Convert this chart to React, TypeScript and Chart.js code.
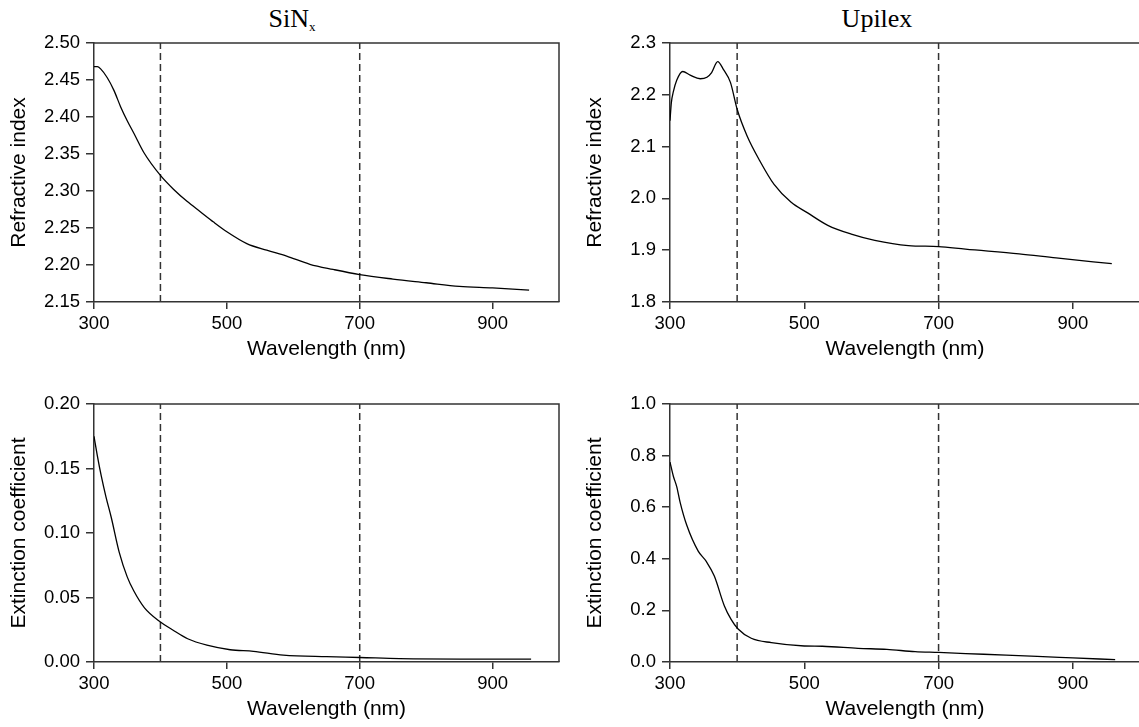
import { useEffect, useRef } from "react";
import { Chart, registerables } from "chart.js";

Chart.register(...registerables);

// ---------- data ----------
const wavelengthTicks = [300, 500, 700, 900];
const markerWavelengths = [400, 700];

const sinxNWavelength = [300, 305, 310, 320, 330, 340, 350, 360, 375, 400, 420, 440, 460, 480, 500, 530, 560, 590, 625, 660, 700, 750, 800, 850, 900, 955];
const sinxN = [2.468, 2.468, 2.465, 2.453, 2.436, 2.414, 2.395, 2.378, 2.352, 2.321, 2.302, 2.286, 2.272, 2.258, 2.245, 2.229, 2.220, 2.212, 2.201, 2.194, 2.187, 2.181, 2.176, 2.171, 2.169, 2.166];

const upilexNWavelength = [300, 302, 305, 310, 319, 330, 345, 355, 362, 371, 380, 390, 400, 415, 434, 455, 480, 505, 535, 570, 605, 655, 700, 740, 820, 875, 958];
const upilexN = [2.150, 2.185, 2.206, 2.228, 2.245, 2.238, 2.231, 2.234, 2.243, 2.264, 2.248, 2.224, 2.172, 2.120, 2.072, 2.027, 1.993, 1.972, 1.948, 1.931, 1.919, 1.909, 1.907, 1.902, 1.893, 1.885, 1.874];

const sinxKWavelength = [300, 305, 311, 318, 326, 338, 350, 360, 376, 400, 418, 441, 470, 505, 540, 585, 650, 700, 760, 870, 958];
const sinxK = [0.175, 0.160, 0.144, 0.128, 0.112, 0.085, 0.066, 0.055, 0.042, 0.031, 0.025, 0.018, 0.013, 0.0095, 0.0083, 0.0054, 0.0041, 0.0035, 0.0026, 0.0023, 0.0023];

const upilexKWavelength = [300, 305, 310, 315, 325, 342, 354, 366, 381, 391, 401, 421, 451, 500, 527, 580, 623, 665, 700, 767, 847, 900, 963];
const upilexK = [0.775, 0.72, 0.68, 0.62, 0.53, 0.43, 0.39, 0.333, 0.217, 0.165, 0.129, 0.092, 0.075, 0.062, 0.061, 0.053, 0.049, 0.040, 0.037, 0.030, 0.022, 0.016, 0.009];

const sinxNTicks = [2.15, 2.2, 2.25, 2.3, 2.35, 2.4, 2.45, 2.5];
const upilexNTicks = [1.8, 1.9, 2.0, 2.1, 2.2, 2.3];
const sinxKTicks = [0, 0.05, 0.1, 0.15, 0.2];
const upilexKTicks = [0, 0.2, 0.4, 0.6, 0.8, 1.0];

// ---------- layout / style ----------
const SANS = "'Liberation Sans', Arial, sans-serif";
const SERIF = "'Liberation Serif', 'Times New Roman', serif";
const AXIS = "#333";
const TICK_SIZE = 18.5;
const AXIS_TITLE_SIZE = 21;

type PanelCfg = {
  left: number;
  top: number;
  width: number;
  height: number;
  padRight: number;
  xs: number[];
  ys: number[];
  yTicks: number[];
  decimals: number;
  yTitle: string;
};

const panels: PanelCfg[] = [
  { left: 0, top: 0, width: 570, height: 362, padRight: 11, xs: sinxNWavelength, ys: sinxN, yTicks: sinxNTicks, decimals: 2, yTitle: "Refractive index" },
  { left: 576, top: 0, width: 574, height: 362, padRight: 10, xs: upilexNWavelength, ys: upilexN, yTicks: upilexNTicks, decimals: 1, yTitle: "Refractive index" },
  { left: 0, top: 361, width: 570, height: 361, padRight: 11, xs: sinxKWavelength, ys: sinxK, yTicks: sinxKTicks, decimals: 2, yTitle: "Extinction coefficient" },
  { left: 576, top: 361, width: 574, height: 361, padRight: 10, xs: upilexKWavelength, ys: upilexK, yTicks: upilexKTicks, decimals: 1, yTitle: "Extinction coefficient" },
];

const boxPlugin = {
  id: "boxTopRight",
  afterDraw(chart: any) {
    const { ctx, chartArea } = chart;
    const { left, top, right, bottom } = chartArea;
    ctx.save();
    ctx.strokeStyle = AXIS;
    ctx.lineWidth = 1.5;
    ctx.beginPath();
    ctx.moveTo(left, top);
    ctx.lineTo(right, top);
    ctx.lineTo(right, bottom);
    ctx.stroke();
    ctx.restore();
  },
};

function Panel({ cfg }: { cfg: PanelCfg }) {
  const ref = useRef<HTMLCanvasElement | null>(null);
  useEffect(() => {
    if (!ref.current) return;
    const yMin = cfg.yTicks[0];
    const yMax = cfg.yTicks[cfg.yTicks.length - 1];
    const datasets: any[] = [
      {
        data: cfg.xs.map((x, i) => ({ x, y: cfg.ys[i] })),
        borderColor: "#000",
        borderWidth: 1.3,
        pointRadius: 0,
        fill: false,
        cubicInterpolationMode: "monotone",
      },
      ...markerWavelengths.map((m) => ({
        data: [
          { x: m, y: yMin },
          { x: m, y: yMax },
        ],
        borderColor: "#333",
        borderWidth: 1.5,
        borderDash: [7, 4],
        pointRadius: 0,
        fill: false,
      })),
    ];
    const chart = new Chart(ref.current, {
      type: "line",
      data: { datasets },
      options: {
        animation: false,
        responsive: false,
        devicePixelRatio: 1,
        layout: { padding: { left: 0, top: 43, right: cfg.padRight, bottom: 0 } },
        plugins: {
          legend: { display: false },
          tooltip: { enabled: false },
          title: { display: false },
        },
        elements: { point: { radius: 0 } },
        scales: {
          x: {
            type: "linear",
            min: 300,
            max: 1000,
            afterBuildTicks: (s: any) => {
              s.ticks = wavelengthTicks.map((v) => ({ value: v }));
            },
            afterFit: (s: any) => {
              s.height = 60;
            },
            ticks: {
              autoSkip: false,
              maxRotation: 0,
              padding: 4,
              color: "#000",
              font: { family: SANS, size: TICK_SIZE },
              callback: (v: any) => String(v),
            },
            grid: { display: true, drawOnChartArea: false, drawTicks: true, tickLength: 7, color: AXIS, lineWidth: 1.5 },
            border: { display: true, color: AXIS, width: 1.5 },
            title: { display: true, text: "Wavelength (nm)", color: "#000", font: { family: SANS, size: AXIS_TITLE_SIZE }, padding: 0 },
          },
          y: {
            type: "linear",
            min: yMin,
            max: yMax,
            afterBuildTicks: (s: any) => {
              s.ticks = cfg.yTicks.map((v) => ({ value: v }));
            },
            afterFit: (s: any) => {
              s.width = 94;
            },
            ticks: {
              autoSkip: false,
              padding: 6,
              color: "#000",
              font: { family: SANS, size: TICK_SIZE },
              callback: (v: any) => Number(v).toFixed(cfg.decimals),
            },
            grid: { display: true, drawOnChartArea: false, drawTicks: true, tickLength: 8, color: AXIS, lineWidth: 1.5 },
            border: { display: true, color: AXIS, width: 1.5 },
            title: { display: true, text: cfg.yTitle, color: "#000", font: { family: SANS, size: AXIS_TITLE_SIZE }, padding: { top: 7, bottom: 0 } },
          },
        },
      },
      plugins: [boxPlugin],
    } as any);
    return () => chart.destroy();
  }, [cfg]);
  return (
    <canvas
      ref={ref}
      width={cfg.width}
      height={cfg.height}
      style={{ position: "absolute", left: cfg.left, top: cfg.top, width: cfg.width, height: cfg.height }}
    />
  );
}

export default function App() {
  return (
    <div
      style={{
        position: "fixed",
        left: 0,
        top: 0,
        width: 1139,
        height: 727,
        overflow: "hidden",
        background: "#fff",
      }}
    >
      <div
        style={{
          position: "absolute",
          left: 192,
          width: 200,
          top: 6,
          textAlign: "center",
          fontFamily: SERIF,
          fontSize: 26,
          lineHeight: "26px",
          color: "#000",
        }}
      >
        SiN<span style={{ fontSize: 13, position: "relative", top: 4 }}>x</span>
      </div>
      <div
        style={{
          position: "absolute",
          left: 777,
          width: 200,
          top: 6,
          textAlign: "center",
          fontFamily: SERIF,
          fontSize: 26,
          lineHeight: "26px",
          color: "#000",
        }}
      >
        Upilex
      </div>
      {panels.map((p, i) => (
        <Panel key={i} cfg={p} />
      ))}
    </div>
  );
}
